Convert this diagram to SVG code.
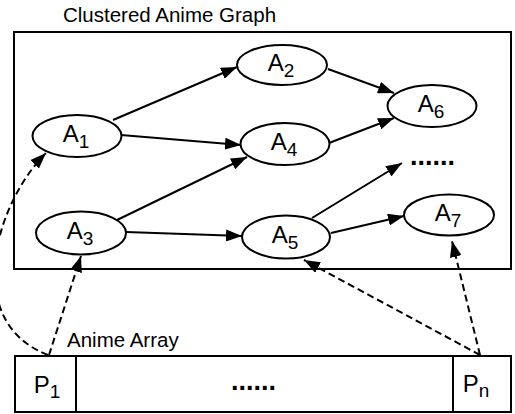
<svg xmlns="http://www.w3.org/2000/svg" width="515" height="414" viewBox="0 0 515 414">
<defs>
<marker id="arr" viewBox="0 0 16 12" refX="16" refY="6" markerWidth="16" markerHeight="12" markerUnits="userSpaceOnUse" orient="auto">
<path d="M0,0 L16,6 L0,12 z" fill="#000"/>
</marker>
<style>
text{font-family:"Liberation Sans",Arial,Helvetica,sans-serif;fill:#000}
.t{font-size:20.5px}
.lab{font-size:24px;text-anchor:middle}
.sub{font-size:19px}
.dots{font-size:27px;font-weight:bold}
.node{fill:#fff;stroke:#000;stroke-width:2}
.box{fill:none;stroke:#000;stroke-width:2}
.e{fill:none;stroke:#000;stroke-width:2;marker-end:url(#arr)}
.d{fill:none;stroke:#000;stroke-width:2;stroke-dasharray:7 4;marker-end:url(#arr)}
</style>
</defs>
<rect width="515" height="414" fill="#fff"/>
<g id="graph">
<text class="t" x="63" y="22">Clustered Anime Graph</text>
<rect class="box" x="14" y="32" width="497" height="237"/>
</g>
<g id="array">
<text class="t" x="67" y="347">Anime Array</text>
<rect class="box" x="15" y="356" width="496" height="56"/>
<line class="box" x1="76" y1="356" x2="76" y2="412"/>
<line class="box" x1="453" y1="356" x2="453" y2="412"/>
<text class="dots" x="231" y="390">......</text>
</g>
<g id="P1"><text class="lab" x="47" y="393">P<tspan class="sub" dy="5">1</tspan></text></g>
<g id="Pn"><text class="lab" x="476" y="392">P<tspan class="sub" dy="5">n</tspan></text></g>
<g id="connectors">
<line class="e" x1="113" y1="120" x2="237" y2="67"/>
<line class="e" x1="121" y1="135" x2="241" y2="145"/>
<line class="e" x1="117" y1="220" x2="247" y2="157"/>
<line class="e" x1="126" y1="232" x2="242" y2="236"/>
<line class="e" x1="328" y1="69" x2="394" y2="93"/>
<line class="e" x1="329" y1="143" x2="394" y2="118"/>
<line class="e" x1="312" y1="218" x2="402" y2="163"/>
<line class="e" x1="331" y1="233" x2="404" y2="216"/>
<path class="d" d="M48,355 C-38,322 -6,205 46,153"/>
<line class="d" x1="49" y1="355" x2="81" y2="256"/>
<line class="d" x1="480" y1="355" x2="304" y2="260"/>
<line class="d" x1="480" y1="355" x2="452" y2="241"/>
</g>
<g id="A1"><ellipse class="node" cx="77" cy="136" rx="44.5" ry="21"/><text class="lab" x="76" y="142">A<tspan class="sub" dy="6">1</tspan></text></g>
<g id="A2"><ellipse class="node" cx="282" cy="65" rx="45" ry="20"/><text class="lab" x="281" y="71">A<tspan class="sub" dy="6">2</tspan></text></g>
<g id="A4"><ellipse class="node" cx="285" cy="144" rx="44.5" ry="21"/><text class="lab" x="284" y="150">A<tspan class="sub" dy="6">4</tspan></text></g>
<g id="A6"><ellipse class="node" cx="432" cy="106" rx="44.5" ry="21"/><text class="lab" x="431" y="112">A<tspan class="sub" dy="6">6</tspan></text></g>
<g id="A3"><ellipse class="node" cx="81" cy="233" rx="45" ry="21.5"/><text class="lab" x="80" y="239">A<tspan class="sub" dy="6">3</tspan></text></g>
<g id="A5"><ellipse class="node" cx="286" cy="237" rx="44" ry="21.5"/><text class="lab" x="285" y="243">A<tspan class="sub" dy="6">5</tspan></text></g>
<g id="A7"><ellipse class="node" cx="449" cy="215" rx="45" ry="20.5"/><text class="lab" x="448" y="221">A<tspan class="sub" dy="6">7</tspan></text></g>
<g id="more"><text class="dots" x="410" y="165">......</text></g>
</svg>
